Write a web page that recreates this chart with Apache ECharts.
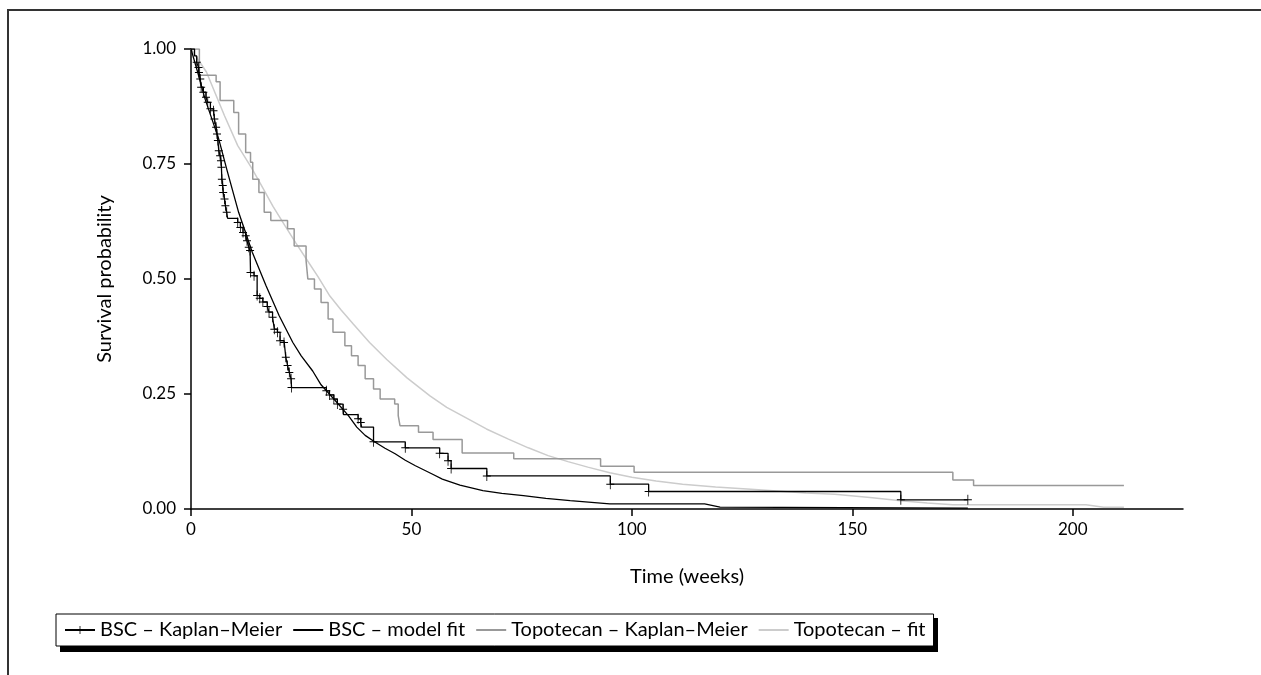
<!DOCTYPE html>
<html lang="en">
<head>
    <meta charset="UTF-8">
    <script type="text/javascript" src="https://cdn.jsdelivr.net/npm/echarts@6/dist/echarts.min.js"></script>
    <style>
        html, body { margin: 0; padding: 0; background: #fff; }
        #chart { width: 1261px; height: 675px; }
    </style>
</head>
<body>
<div id="chart"></div>
<script type="text/javascript">
    // BSC Kaplan-Meier: [weeks, survival]
    var bscKm = [
        [0, 1.0], [0.8, 0.985], [1.3, 0.971], [1.7, 0.960], [1.8, 0.949], [2.1, 0.935], [2.3, 0.917],
        [2.8, 0.906], [3.4, 0.895], [3.8, 0.884], [4.4, 0.870], [5.1, 0.866], [5.3, 0.848], [5.7, 0.830],
        [5.9, 0.815], [6.1, 0.801], [6.3, 0.779], [6.6, 0.768], [6.8, 0.757], [6.9, 0.743], [7.0, 0.717],
        [7.2, 0.703], [7.3, 0.688], [7.6, 0.674], [7.8, 0.659], [8.1, 0.645], [8.3, 0.632], [10.6, 0.623],
        [11.2, 0.612], [11.8, 0.601], [12.4, 0.594], [12.7, 0.583], [13.1, 0.569], [13.4, 0.562],
        [13.5, 0.514], [14.3, 0.507], [15.0, 0.464], [15.6, 0.458], [16.3, 0.450], [17.3, 0.440],
        [17.7, 0.428], [18.5, 0.417], [18.9, 0.391], [19.6, 0.384], [20.2, 0.366], [21.1, 0.362],
        [21.5, 0.330], [21.9, 0.312], [22.3, 0.297], [22.7, 0.283], [22.8, 0.264], [30.7, 0.257],
        [31.4, 0.248], [32.4, 0.239], [33.2, 0.228], [34.5, 0.217], [34.6, 0.205], [37.9, 0.196],
        [38.5, 0.188], [38.7, 0.178], [41.4, 0.146], [48.6, 0.133], [56.4, 0.121], [58.3, 0.105],
        [59.0, 0.088], [67.1, 0.072], [95.1, 0.054], [103.8, 0.038], [161.0, 0.020], [176.2, 0.020]
    ];
    // censored times on the BSC curve (marked with +)
    var bscCensor = [
        1.3, 1.7, 1.8, 2.1, 2.3, 2.8, 3.4, 3.8, 4.4, 5.1, 5.3, 5.7, 5.9, 6.1, 6.3, 6.6, 6.8, 6.9, 7.0,
        7.2, 7.3, 7.6, 7.8, 8.1, 10.6, 11.2, 11.8, 12.4, 12.7, 13.1, 13.4, 13.5, 14.3, 15.0, 15.6, 16.3,
        17.3, 17.7, 18.5, 18.9, 19.6, 20.2, 21.1, 21.5, 21.9, 22.3, 22.7, 22.8, 30.7, 31.4, 32.4, 33.2,
        34.5, 37.9, 38.5, 41.4, 48.6, 56.4, 58.3, 59.0, 67.1, 95.1, 103.8, 161.0, 176.2
    ];
    var bscFit = [
        [0, 1.0], [1.5, 0.95], [3.2, 0.891], [6.3, 0.804], [8.1, 0.739], [10.8, 0.645], [13.9, 0.558],
        [17.0, 0.486], [20.0, 0.420], [23.1, 0.362], [25.0, 0.333], [27.6, 0.300], [29.5, 0.270],
        [32.6, 0.237], [35.7, 0.203], [37.6, 0.178], [39.5, 0.160], [41.8, 0.145], [44.0, 0.132],
        [46.3, 0.120], [48.6, 0.106], [50.9, 0.094], [54.7, 0.076], [57.0, 0.065], [61.0, 0.052],
        [66.2, 0.040], [70.5, 0.034], [75.4, 0.029], [80.5, 0.023], [86.0, 0.018], [95.0, 0.011],
        [116.5, 0.011], [120.0, 0.004], [176.2, 0.002]
    ];
    var topoKm = [
        [0, 1.0], [1.9, 0.943], [5.7, 0.929], [6.6, 0.888], [9.7, 0.862], [10.8, 0.815], [12.4, 0.775],
        [13.5, 0.754], [14.0, 0.717], [15.4, 0.688], [16.6, 0.645], [18.1, 0.627], [21.9, 0.609],
        [23.4, 0.572], [26.1, 0.540], [26.5, 0.500], [28.0, 0.478], [29.5, 0.449], [31.1, 0.413],
        [32.2, 0.384], [34.9, 0.355], [36.4, 0.333], [37.9, 0.312], [39.5, 0.283], [41.4, 0.261],
        [42.9, 0.239], [46.2, 0.228], [47.0, 0.203], [47.4, 0.181], [51.6, 0.167], [54.9, 0.151],
        [61.5, 0.122], [73.2, 0.109], [92.9, 0.093], [100.5, 0.080], [172.8, 0.063], [177.5, 0.051],
        [211.6, 0.051]
    ];
    var topoFit = [
        [0, 1.0], [3.5, 0.950], [7.6, 0.855], [10.6, 0.790], [13.7, 0.742], [16.0, 0.703],
        [18.6, 0.658], [21.3, 0.616], [23.8, 0.578], [26.2, 0.543], [28.8, 0.505], [31.5, 0.463],
        [34.0, 0.433], [36.8, 0.402], [40.5, 0.362], [44.4, 0.325], [49.0, 0.285], [54.2, 0.246],
        [58.0, 0.221], [62.2, 0.199], [67.0, 0.174], [72.0, 0.152], [76.5, 0.133], [81.0, 0.116],
        [85.5, 0.103], [90.0, 0.091], [95.0, 0.079], [100.0, 0.069], [105.5, 0.061], [111.5, 0.054],
        [119.0, 0.048], [127.0, 0.043], [139.5, 0.035], [146.0, 0.032], [154.0, 0.025], [161.0, 0.018],
        [167.0, 0.013], [172.8, 0.009], [203.0, 0.009], [207.0, 0.004], [211.6, 0.004]
    ];
    var xTicks = [0, 50, 100, 150, 200];
    var yTicks = [0, 0.25, 0.5, 0.75, 1.0];
    var legendNames = ['BSC – Kaplan–Meier', 'BSC – model fit', 'Topotecan – Kaplan–Meier', 'Topotecan – fit'];

    var crossPath = 'path://M4.5,0H5.5V4.5H10V5.5H5.5V10H4.5V5.5H0V4.5H4.5Z';
    var font = 'Lato, "Open Sans", sans-serif';

    // mark censored points on the KM step line
    var bscKmData = bscKm.map(function (p) {
        var marked = bscCensor.indexOf(p[0]) >= 0;
        return marked ? { value: p } : { value: p, symbol: 'none' };
    });

    var chart = echarts.init(document.getElementById('chart'), null, { renderer: 'canvas' });
    chart.setOption({
        animation: false,
        backgroundColor: '#fff',
        grid: { left: 191, top: 49, right: 78, bottom: 166 },
        graphic: [
            { type: 'line', shape: { x1: 7, y1: 10, x2: 1261, y2: 10 }, style: { stroke: '#333', lineWidth: 2 } },
            { type: 'line', shape: { x1: 8, y1: 10, x2: 8, y2: 675 }, style: { stroke: '#333', lineWidth: 2 } },
            // drop shadow behind the legend box
            { type: 'rect', shape: { x: 60, y: 618, width: 878, height: 34 }, style: { fill: '#000' } }
        ],
        legend: {
            left: 56, top: 614,
            itemWidth: 30, itemHeight: 10, itemGap: 10,
            padding: [6, 8],
            backgroundColor: '#fff',
            borderColor: '#000', borderWidth: 1,
            textStyle: { fontFamily: font, fontSize: 20, color: '#000' },
            data: legendNames.map(function (n, i) {
                // line-only items: hide the symbol the legend would draw in the middle
                return i === 0 ? { name: n } : { name: n, itemStyle: { opacity: 0, borderWidth: 0 } };
            })
        },
        xAxis: {
            type: 'value', min: 0, max: 225, interval: 50,
            name: 'Time (weeks)', nameLocation: 'middle', nameGap: 58,
            nameTextStyle: { fontFamily: font, fontSize: 20, color: '#000' },
            axisLine: { show: true, lineStyle: { color: '#000', width: 1.5 } },
            axisTick: { show: true, length: 7, lineStyle: { color: '#000', width: 1.5 }, customValues: xTicks },
            axisLabel: { fontFamily: font, fontSize: 17, color: '#000', margin: 12, customValues: xTicks },
            splitLine: { show: false }
        },
        yAxis: {
            type: 'value', min: 0, max: 1, interval: 0.25,
            name: 'Survival probability', nameLocation: 'middle', nameGap: 76,
            nameTextStyle: { fontFamily: font, fontSize: 20, color: '#000' },
            axisLine: { show: true, lineStyle: { color: '#000', width: 1.5 } },
            axisTick: { show: true, length: 7, lineStyle: { color: '#000', width: 1.5 }, customValues: yTicks },
            axisLabel: {
                fontFamily: font, fontSize: 17, color: '#000', margin: 15, customValues: yTicks,
                formatter: function (v) { return v.toFixed(2); }
            },
            splitLine: { show: false }
        },
        series: [
            {
                name: legendNames[0], type: 'line', step: 'end',
                symbol: crossPath, symbolSize: [8, 10],
                itemStyle: { color: '#000' },
                lineStyle: { color: '#000', width: 1.3 },
                data: bscKmData, z: 5
            },
            {
                name: legendNames[1], type: 'line', symbol: 'none',
                lineStyle: { color: '#000', width: 1.3 }, itemStyle: { color: '#000' },
                data: bscFit, z: 4
            },
            {
                name: legendNames[2], type: 'line', step: 'end', symbol: 'none',
                lineStyle: { color: '#999', width: 1.5 }, itemStyle: { color: '#999' },
                data: topoKm, z: 3
            },
            {
                name: legendNames[3], type: 'line', symbol: 'none',
                lineStyle: { color: '#ccc', width: 1.5 }, itemStyle: { color: '#ccc' },
                data: topoFit, z: 2
            }
        ]
    });
</script>
</body>
</html>
